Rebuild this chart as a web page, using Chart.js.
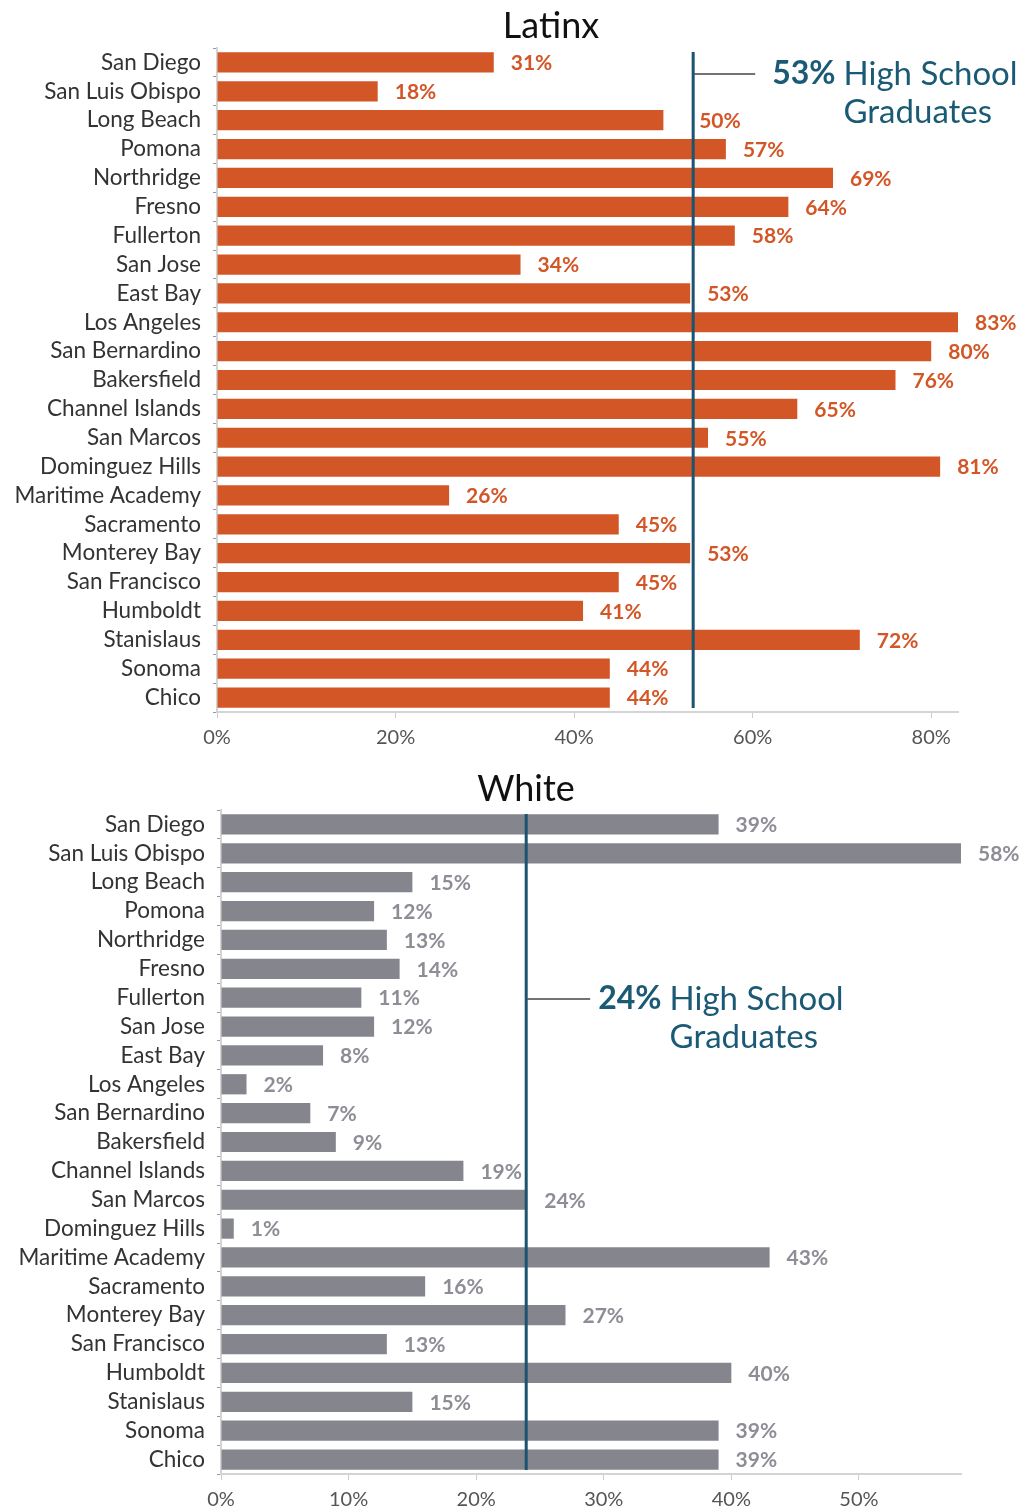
<!DOCTYPE html>
<html>
<head>
<meta charset="utf-8">
<script src="https://cdn.jsdelivr.net/npm/chart.js@4.4.1/dist/chart.umd.min.js"></script>
<style>
  html, body { margin: 0; padding: 0; background: #fff; }
  .box { position: relative; width: 1023px; height: 755px; }
</style>
</head>
<body>
<div class="box"><canvas id="chartLatinx"></canvas></div>
<div class="box"><canvas id="chartWhite"></canvas></div>
<script>
/* Datos */
const campuses = [
    "San Diego", "San Luis Obispo", "Long Beach", "Pomona", "Northridge", "Fresno",
    "Fullerton", "San Jose", "East Bay", "Los Angeles", "San Bernardino", "Bakersfield",
    "Channel Islands", "San Marcos", "Dominguez Hills", "Maritime Academy", "Sacramento",
    "Monterey Bay", "San Francisco", "Humboldt", "Stanislaus", "Sonoma", "Chico"
];
const latinxPct = [31, 18, 50, 57, 69, 64, 58, 34, 53, 83, 80, 76, 65, 55, 81, 26, 45, 53, 45, 41, 72, 44, 44];
const whitePct  = [39, 58, 15, 12, 13, 14, 11, 12, 8, 2, 7, 9, 19, 24, 1, 43, 16, 27, 13, 40, 15, 39, 39];
const latinxHS = 53;
const whiteHS = 24;
const latinxTicks = [0, 20, 40, 60, 80];
const whiteTicks = [0, 10, 20, 30, 40, 50];

const FONT = "Lato";
const TEAL = "#1b5a74";

/* Plugin: etiquetas de valor, línea de referencia y título */
const overlayPlugin = {
    id: "overlay",
    afterDatasetsDraw(chart, args, opts) {
        const ctx = chart.ctx;
        const meta = chart.getDatasetMeta(0);
        const data = chart.data.datasets[0].data;
        const area = chart.chartArea;
        const xs = chart.scales.x;

        // línea de referencia
        const lx = xs.getPixelForValue(opts.ref) + opts.lineShift;
        ctx.save();
        ctx.strokeStyle = "#1a5470";
        ctx.lineWidth = 3;
        ctx.beginPath();
        ctx.moveTo(lx, area.top + 4);
        ctx.lineTo(lx, area.bottom - 4);
        ctx.stroke();

        // etiquetas (se apartan de la línea si chocan)
        ctx.font = "bold 21px " + FONT;
        ctx.fillStyle = opts.labelColor;
        ctx.textBaseline = "middle";
        ctx.textAlign = "left";
        meta.data.forEach((bar, i) => {
            const txt = data[i] + "%";
            let tx = bar.x + 17;
            const w = ctx.measureText(txt).width;
            if (bar.x < lx - 2 && tx < lx + 4 && tx + w > lx - 4) tx = lx + 6;
            ctx.fillText(txt, tx, bar.y + 1);
        });

        // conector y anotación
        const ay = opts.annY;
        ctx.strokeStyle = "#444";
        ctx.lineWidth = 1.5;
        ctx.beginPath();
        ctx.moveTo(lx + 1, ay);
        ctx.lineTo(lx + opts.connLen, ay);
        ctx.stroke();

        ctx.fillStyle = TEAL;
        ctx.font = "bold 32px " + FONT;
        const pctTxt = opts.ref + "%";
        const px = lx + opts.connLen + opts.textGap;
        ctx.fillText(pctTxt, px, ay);
        const pw = ctx.measureText(pctTxt).width;
        ctx.font = "33px " + FONT;
        const hsX = px + pw + 8;
        ctx.fillText("High School", hsX, ay);
        ctx.fillText("Graduates", hsX, ay + 38);

        // título
        ctx.fillStyle = "#111";
        ctx.font = "36px " + FONT;
        ctx.textAlign = "center";
        ctx.fillText(opts.title, opts.titleX, opts.titleY);
        ctx.restore();
    }
};

function buildChart(id, values, color, labelColor, max, ticks, ref, cfg) {
    new Chart(document.getElementById(id), {
        type: "bar",
        data: {
            labels: campuses,
            datasets: [{
                data: values,
                backgroundColor: color,
                borderWidth: 0,
                barPercentage: 0.7,
                categoryPercentage: 1
            }]
        },
        options: {
            indexAxis: "y",
            responsive: true,
            maintainAspectRatio: false,
            animation: false,
            devicePixelRatio: 1,
            layout: { padding: { top: cfg.top, right: cfg.right, bottom: cfg.bottom, left: 0 } },
            plugins: {
                legend: { display: false },
                tooltip: { enabled: false },
                overlay: {
                    ref: ref,
                    labelColor: labelColor,
                    annY: cfg.annY,
                    connLen: cfg.connLen,
                    textGap: cfg.textGap,
                    lineShift: cfg.lineShift,
                    title: cfg.title,
                    titleX: cfg.titleX,
                    titleY: cfg.titleY
                }
            },
            scales: {
                x: {
                    min: 0,
                    max: max,
                    afterFit: s => { s.height = 32; },
                    afterBuildTicks: s => { s.ticks = ticks.map(v => ({ value: v })); },
                    grid: { drawOnChartArea: false, color: "#ccc", tickLength: 6 },
                    border: { color: "#d4d4d4", width: 2 },
                    ticks: {
                        padding: 8,
                        color: "#555",
                        font: { family: FONT, size: 20 },
                        callback: v => v + "%"
                    }
                },
                y: {
                    afterFit: s => { s.width = cfg.left; },
                    grid: { drawOnChartArea: false, color: "#999", tickLength: 4 },
                    border: { color: "#d4d4d4", width: 2 },
                    ticks: {
                        autoSkip: false,
                        padding: 12,
                        color: "#333",
                        font: { family: FONT, size: 22.5 }
                    }
                }
            }
        },
        plugins: [overlayPlugin]
    });
}

buildChart("chartLatinx", latinxPct, "#d35627", "#d35627", 83, latinxTicks, latinxHS, {
    top: 48, right: 65, bottom: 11, left: 217,
    annY: 74, connLen: 62, textGap: 17, lineShift: 3,
    title: "Latinx", titleX: 551, titleY: 26
});

buildChart("chartWhite", whitePct, "#85858e", "#8d8d96", 58, whiteTicks, whiteHS, {
    top: 55, right: 62, bottom: 4, left: 221,
    annY: 244, connLen: 64, textGap: 8, lineShift: -1,
    title: "White", titleX: 526, titleY: 34
});
</script>
</body>
</html>
